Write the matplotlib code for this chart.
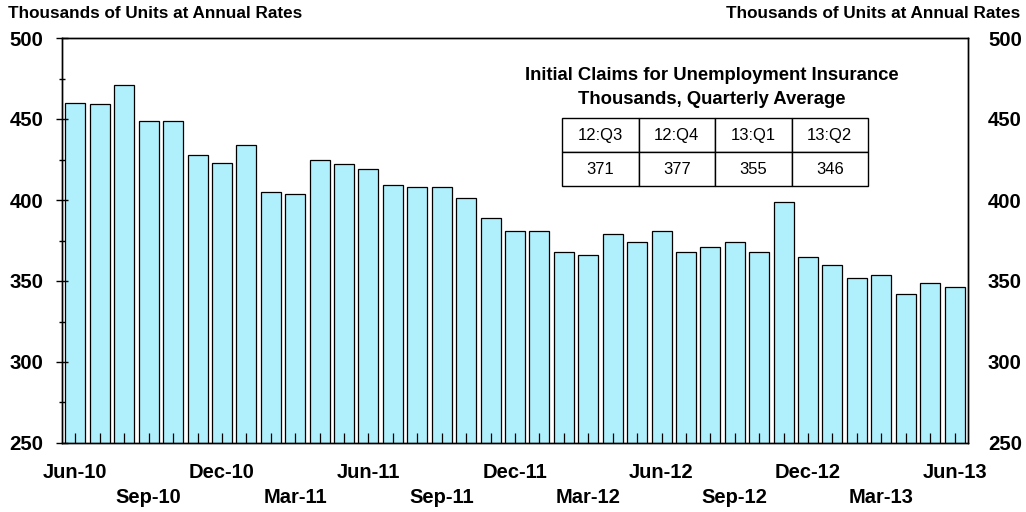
import matplotlib
matplotlib.use("Agg")
import matplotlib.pyplot as plt
import numpy as np

plt.rcParams['font.family'] = ['Liberation Sans', 'DejaVu Sans']

months = ["Jun-10","Jul-10","Aug-10","Sep-10","Oct-10","Nov-10","Dec-10",
          "Jan-11","Feb-11","Mar-11","Apr-11","May-11","Jun-11","Jul-11",
          "Aug-11","Sep-11","Oct-11","Nov-11","Dec-11","Jan-12","Feb-12",
          "Mar-12","Apr-12","May-12","Jun-12","Jul-12","Aug-12","Sep-12",
          "Oct-12","Nov-12","Dec-12","Jan-13","Feb-13","Mar-13","Apr-13",
          "May-13","Jun-13"]
claims = [460, 459, 471, 449, 449, 428, 423, 434, 405, 404, 425, 422, 419, 409,
          408, 408, 401, 389, 381, 381, 368, 366, 379, 374, 381, 368, 371, 374,
          368, 399, 365, 360, 352, 354, 342, 349, 346]
quarters = ["12:Q3", "12:Q4", "13:Q1", "13:Q2"]
quarter_avg = ["371", "377", "355", "346"]
yticks = [250, 300, 350, 400, 450, 500]

fig = plt.figure(figsize=(10.26, 5.12), dpi=100)
ax = fig.add_axes([62/1026, 1-443/512, 906/1026, 405/512])
x = np.arange(len(months))
ax.bar(x, claims, width=0.82, bottom=0, color='#b0f0fc', edgecolor='black', linewidth=0.9)
ax.set_ylim(250, 500)
ax.set_xlim(-0.55, len(months) - 0.45)

ax.set_yticks(yticks)
ax.set_yticks(np.arange(275, 500, 50), minor=True)
ax.tick_params(axis='y', which='major', direction='inout', length=8, labelsize=14.7, width=1, pad=9.5)
ax.tick_params(axis='y', which='minor', direction='inout', length=5, width=1)
for lab in ax.get_yticklabels():
    lab.set_fontweight('bold')

ax2 = ax.twinx()
ax2.set_ylim(250, 500)
ax2.set_yticks(yticks)
ax2.tick_params(axis='y', length=0, labelsize=14.7, pad=14.4)
for lab in ax2.get_yticklabels():
    lab.set_fontweight('bold')

ax.set_xticks(x)
ax.set_xticklabels([])
ax.tick_params(axis='x', direction='in', length=7, width=0.9)
for i, m in enumerate(months):
    if i % 3 == 0:
        row = (i // 3) % 2
        ax.text(i, -0.072 - 0.062 * row, m, transform=ax.get_xaxis_transform(),
                ha='center', va='center', fontsize=14.5, fontweight='bold')

for a in (ax, ax2):
    for s in a.spines.values():
        s.set_linewidth(1)

fig.text(8/1026, 1-14/512, "Thousands of Units at Annual Rates", fontsize=12.3,
         fontweight='bold', ha='left', va='center')
fig.text(1020/1026, 1-14/512, "Thousands of Units at Annual Rates", fontsize=12.3,
         fontweight='bold', ha='right', va='center')

fig.text(712/1026, 1-75/512, "Initial Claims for Unemployment Insurance", fontsize=13.3,
         fontweight='bold', ha='center', va='center')
fig.text(712/1026, 1-99/512, "Thousands, Quarterly Average", fontsize=13.3,
         fontweight='bold', ha='center', va='center')

tax = fig.add_axes([562/1026, 1-186/512, 306/1026, 68/512])
tax.axis('off')
tbl = tax.table(cellText=[quarters, quarter_avg], cellLoc='center',
                bbox=[0, 0, 1, 1])
tbl.auto_set_font_size(False)
for (r, c), cell in tbl.get_celld().items():
    cell.set_fontsize(12)
    cell.set_linewidth(1)
    cell.set_edgecolor('black')

fig.savefig("out.png", dpi=100)
